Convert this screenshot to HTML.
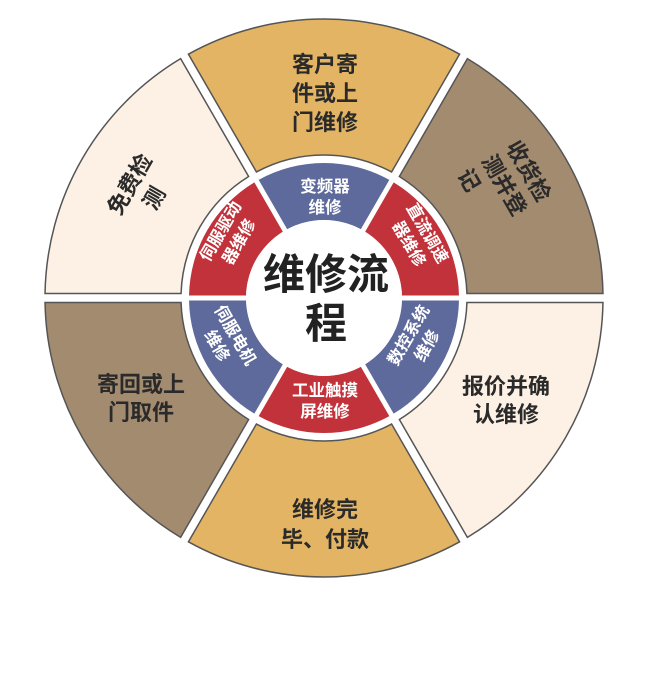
<!DOCTYPE html>
<html><head><meta charset="utf-8">
<style>
html,body{margin:0;padding:0;background:#fff;width:650px;height:695px;overflow:hidden}
svg{display:block}
text{font-family:"Liberation Sans","Noto Sans CJK SC",sans-serif;font-weight:bold;text-anchor:middle}
.o{fill:#2a2a2a;font-size:22px}
.i{fill:#fff;font-size:16.5px}
.c{fill:#222;font-size:42px}
</style></head><body>
<svg id="s" width="650" height="695" viewBox="0 0 650 695">
<g id="segs"></g>
<circle cx="324" cy="298" r="78" fill="#fff"/>
<text class="c" x="326" y="289">维修流</text>
<text class="c" x="326" y="338">程</text>

<text class="o" x="325" y="72">客户寄</text>
<text class="o" x="325" y="101">件或上</text>
<text class="o" x="325" y="130">门维修</text>

<g transform="translate(508,183) rotate(60)">
<text class="o" x="0" y="-16">收货检</text>
<text class="o" x="0" y="12">测并登</text>
<text class="o" x="-22" y="40">记</text>
</g>

<text class="o" x="506" y="394">报价并确</text>
<text class="o" x="506" y="422">认维修</text>

<text class="o" x="325" y="517">维修完</text>
<text class="o" x="325" y="547">毕、付款</text>

<text class="o" x="141" y="392">寄回或上</text>
<text class="o" x="141" y="420">门取件</text>

<g transform="translate(140,190) rotate(-60)">
<text class="o" x="0" y="-4">免费检</text>
<text class="o" x="0" y="24">测</text>
</g>

<text class="i" x="325" y="192">变频器</text>
<text class="i" x="325" y="213">维修</text>

<g transform="translate(419,238) rotate(60)">
<text class="i" x="0" y="-4">直流调速</text>
<text class="i" x="0" y="17">器维修</text>
</g>
<g transform="translate(417,340) rotate(-60)">
<text class="i" x="0" y="-4">数控系统</text>
<text class="i" x="0" y="17">维修</text>
</g>
<text class="i" x="325" y="396">工业触摸</text>
<text class="i" x="325" y="417">屏维修</text>
<g transform="translate(227,340) rotate(60)">
<text class="i" x="0" y="-4">伺服电机</text>
<text class="i" x="0" y="17">维修</text>
</g>
<g transform="translate(229,236) rotate(-60)">
<text class="i" x="0" y="-4">伺服驱动</text>
<text class="i" x="0" y="17">器维修</text>
</g>
</svg>
<script>
(function(){
var cx=324,cy=298;
function pt(th,d,R){
 var a=th*Math.PI/180, ux=Math.sin(a), uy=-Math.cos(a), nx=Math.cos(a), ny=Math.sin(a);
 var t=Math.sqrt(R*R-d*d);
 return [cx+nx*d+ux*t, cy+ny*d+uy*t];
}
function seg(t1,t2,r1,r2,g){
 var h=g/2;
 var a=pt(t1,h,r2), b=pt(t2,-h,r2), c=pt(t2,-h,r1), d=pt(t1,h,r1);
 return "M"+a+" A"+r2+","+r2+" 0 0 1 "+b+" L"+c+" A"+r1+","+r1+" 0 0 0 "+d+"Z";
}
var g=document.getElementById('segs'), html='';
var oc=['#E3B464','#A38B70','#FCF1E4','#E3B464','#A38B70','#FCF1E4'];
for(var k=0;k<6;k++){
 var t1=-30+60*k;
 html+='<path d="'+seg(t1,t1+60,143,279,9)+'" fill="'+oc[k]+'" stroke="#555" stroke-width="1.5"/>';
}
var ic=['#5E6A9B','#C1323A'];
for(var k=0;k<6;k++){
 var t1=-30+60*k;
 html+='<path d="'+seg(t1,t1+60,78,135,5)+'" fill="'+ic[k%2]+'"/>';
}
g.innerHTML=html;
})();
</script>
</body></html>
